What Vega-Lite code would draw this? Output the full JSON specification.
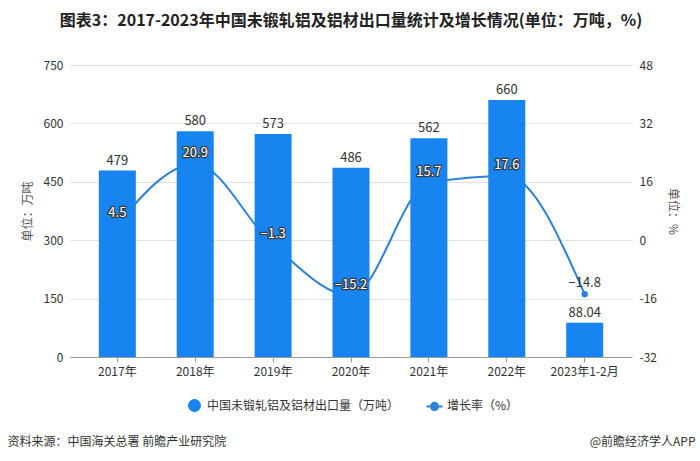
{
  "$schema": "https://vega.github.io/schema/vega-lite/v6.json",
  "width": 562,
  "height": 292,
  "autosize": {"type": "none"},
  "padding": {"left": 70, "top": 65, "right": 68, "bottom": 104},
  "background": "white",
  "title": {
    "text": "图表3：2017-2023年中国未锻轧铝及铝材出口量统计及增长情况(单位：万吨，%)",
    "font": "Noto Sans CJK SC",
    "fontSize": 16,
    "fontWeight": "bold",
    "color": "#222222",
    "anchor": "middle",
    "offset": 30
  },
  "config": {
    "view": {"stroke": null},
    "font": "Noto Sans CJK SC",
    "axis": {
      "labelFont": "Noto Sans CJK SC",
      "titleFont": "Noto Sans CJK SC",
      "labelFontSize": 12,
      "titleFontSize": 12,
      "labelColor": "#333333",
      "titleColor": "#555555",
      "titleFontWeight": "normal"
    },
    "legend": {
      "labelFont": "Noto Sans CJK SC",
      "labelFontSize": 12,
      "labelColor": "#333333",
      "labelLimit": 0
    }
  },
  "data": {
    "values": [
      {"year": "2017年", "volume": 479, "rate": 4.5},
      {"year": "2018年", "volume": 580, "rate": 20.9},
      {"year": "2019年", "volume": 573, "rate": -1.3},
      {"year": "2020年", "volume": 486, "rate": -15.2},
      {"year": "2021年", "volume": 562, "rate": 15.7},
      {"year": "2022年", "volume": 660, "rate": 17.6},
      {"year": "2023年1-2月", "volume": 88.04, "rate": -14.8}
    ]
  },
  "layer": [
    {
      "encoding": {
        "x": {
          "field": "year", "type": "nominal", "sort": null,
          "scale": {"paddingInner": 0.525, "paddingOuter": 0.37},
          "axis": {
            "orient": "bottom",
            "title": "@前瞻经济学人APP",
            "labels": false, "ticks": false, "domain": false, "grid": false,
            "titleX": 625, "titleY": 84, "titleAlign": "right", "titleBaseline": "middle",
            "titleAngle": 0, "titleColor": "#333333"
          }
        },
        "y": {
          "field": "rate", "type": "quantitative",
          "scale": {"domain": [-32, 48], "nice": false, "zero": false},
          "axis": {
            "orient": "right",
            "title": "单位：%",
            "values": [-32, -16, 0, 16, 32, 48],
            "grid": false, "domain": false, "ticks": false,
            "labelPadding": 7, "titlePadding": 9,
            "labelExpr": "replace(datum.label, '−', '-')"
          }
        }
      },
      "layer": [
        {
          "mark": {"type": "line", "interpolate": "monotone", "strokeWidth": 2},
          "encoding": {
            "color": {
              "datum": "增长率（%）",
              "scale": {
                "domain": ["中国未锻轧铝及铝材出口量（万吨）", "增长率（%）"],
                "range": ["#1784F0", "#2A82D8"]
              },
              "legend": {
                "title": null,
                "orient": "none",
                "direction": "horizontal",
                "legendX": 118,
                "legendY": 334,
                "symbolSize": 256,
                "labelOffset": 6,
                "columnPadding": 22,
                "labelLimit": 0,
                "symbolStrokeWidth": 2,
                "encode": {
                  "symbols": {
                    "update": {
                      "shape": {"signal": "datum.value === '增长率（%）' ? 'M-1,0L1,0M0.45,0A0.45,0.45 0 1 1 -0.45,0A0.45,0.45 0 1 1 0.45,0Z' : 'circle'"},
                      "size": {"signal": "datum.value === '增长率（%）' ? 256 : 120"},
                      "fill": {"signal": "scale('color', datum.value)"},
                      "stroke": {"signal": "scale('color', datum.value)"},
                      "strokeWidth": {"value": 2},
                      "opacity": {"value": 1}
                    }
                  }
                }
              }
            }
          }
        },
        {
          "mark": {"type": "circle", "size": 40, "opacity": 1, "color": "#2A82D8"}
        }
      ]
    },
    {
      "encoding": {
        "x": {
          "field": "year", "type": "nominal", "sort": null,
          "scale": {"paddingInner": 0.525, "paddingOuter": 0.37},
          "axis": {
            "orient": "bottom",
            "title": "资料来源：中国海关总署 前瞻产业研究院",
            "titleX": -63, "titleY": 84, "titleAlign": "left", "titleBaseline": "middle",
            "titleColor": "#333333",
            "labelAngle": 0, "labelPadding": 4, "tickSize": 5,
            "domainColor": "#9a9a9a", "tickColor": "#9a9a9a", "grid": false
          }
        },
        "y": {
          "field": "volume", "type": "quantitative",
          "scale": {"domain": [0, 750], "nice": false},
          "axis": {
            "orient": "left",
            "title": "单位：万吨",
            "values": [0, 150, 300, 450, 600, 750],
            "grid": true, "gridColor": "#e2e2e2",
            "domain": false, "ticks": false,
            "labelPadding": 7, "titlePadding": 9
          }
        }
      },
      "layer": [
        {
          "mark": {"type": "bar"},
          "encoding": {
            "color": {
              "datum": "中国未锻轧铝及铝材出口量（万吨）"
            }
          }
        },
        {
          "mark": {"type": "text", "dy": -10, "baseline": "middle", "fontSize": 13, "color": "#333333", "font": "Noto Sans CJK SC"},
          "encoding": {"text": {"field": "volume", "type": "quantitative"}}
        }
      ]
    },
    {
      "encoding": {
        "x": {
          "field": "year", "type": "nominal", "sort": null,
          "scale": {"paddingInner": 0.525, "paddingOuter": 0.37},
          "axis": null
        },
        "y": {
          "field": "rate", "type": "quantitative",
          "scale": {"domain": [-32, 48], "nice": false, "zero": false},
          "axis": null
        }
      },
      "layer": [
        {
          "transform": [{"filter": "datum.year !== '2023年1-2月'"}],
          "mark": {"type": "text", "dy": -11, "baseline": "middle", "fontSize": 13, "color": "#3a3a3a", "stroke": "#3a3a3a", "strokeWidth": 2.5, "strokeJoin": "round", "font": "Noto Sans CJK SC"},
          "encoding": {"text": {"field": "rate", "type": "quantitative", "format": ".1f"}}
        },
        {
          "transform": [{"filter": "datum.year !== '2023年1-2月'"}],
          "mark": {"type": "text", "dy": -11, "baseline": "middle", "fontSize": 13, "color": "#ffffff", "font": "Noto Sans CJK SC"},
          "encoding": {"text": {"field": "rate", "type": "quantitative", "format": ".1f"}}
        },
        {
          "transform": [{"filter": "datum.year === '2023年1-2月'"}],
          "mark": {"type": "text", "dy": -11, "baseline": "middle", "fontSize": 13, "color": "#333333", "font": "Noto Sans CJK SC"},
          "encoding": {"text": {"field": "rate", "type": "quantitative", "format": ".1f"}}
        }
      ]
    }
  ],
  "resolve": {
    "scale": {"y": "independent"},
    "axis": {"x": "independent", "y": "independent"}
  }
}
